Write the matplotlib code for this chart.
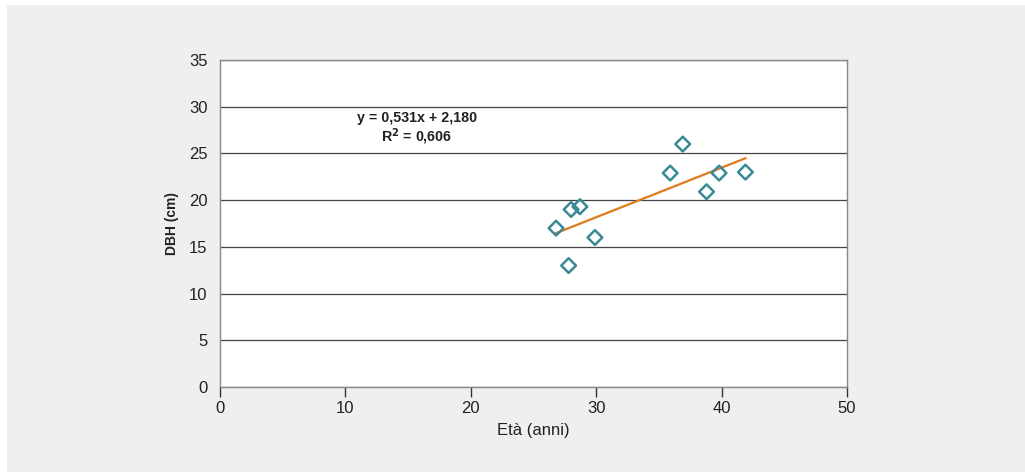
import matplotlib
matplotlib.use('Agg')
import matplotlib.pyplot as plt
import numpy as np
from matplotlib.patches import Rectangle

# Data
eta = [26.8, 27.8, 28.0, 28.7, 29.9, 35.9, 36.9, 38.8, 39.8, 41.9]
dbh = [17, 13, 19, 19.3, 16, 22.9, 26, 20.9, 22.9, 23]
x_ticks = [0, 10, 20, 30, 40, 50]
y_ticks = [0, 5, 10, 15, 20, 25, 30, 35]
eq_text = 'y = 0,531x + 2,180'
r2_text = r'R$^\mathbf{2}$ = 0,606'

plt.rcParams['font.family'] = ['Liberation Sans', 'DejaVu Sans']

fig = plt.figure(figsize=(10.25, 4.72), dpi=100)
fig.patch.set_facecolor('white')
fig.patches.append(Rectangle((7 / 1025, 0), 1 - 7 / 1025, 1 - 5 / 472,
                             transform=fig.transFigure, facecolor='#eeeff1',
                             edgecolor='none', zorder=-10))

ax = fig.add_axes([220 / 1025, 1 - 387 / 472, 627 / 1025, 327 / 472])
ax.set_facecolor('white')

# Trend line from least squares fit
coef = np.polyfit(eta, dbh, 1)
xs = np.array([min(eta), max(eta)])
ax.plot(xs, np.polyval(coef, xs), color='#e07b1a', linewidth=1.6, zorder=3)

ax.scatter(eta, dbh, marker='D', s=56, facecolors='none',
           edgecolors='#3a8a96', linewidths=1.8, zorder=4)

ax.set_xlim(0, 50)
ax.set_ylim(0, 35)
ax.set_xticks(x_ticks)
ax.set_yticks(y_ticks)
ax.yaxis.grid(True, color='#444444', linewidth=0.9)
ax.set_axisbelow(True)
for s in ax.spines.values():
    s.set_color('#888888')
    s.set_linewidth(1.0)
ax.tick_params(axis='x', length=7, width=1, color='#333333', labelsize=12,
               labelcolor='#222222', pad=3)
ax.tick_params(axis='y', length=0, labelsize=12, labelcolor='#222222', pad=9)

ax.set_xlabel('Età (anni)', fontsize=12, color='#222222', labelpad=5)
ax.set_ylabel('DBH (cm)', fontsize=10, fontweight='bold', color='#222222',
              labelpad=7)

ax.text(15.7, 28.8, eq_text, ha='center', va='center', fontsize=10.3,
        fontweight='bold', color='#222222')
ax.text(15.7, 26.8, r2_text, ha='center', va='center', fontsize=10.3,
        fontweight='bold', color='#222222')

plt.savefig('out.png', dpi=100, facecolor=fig.get_facecolor())
